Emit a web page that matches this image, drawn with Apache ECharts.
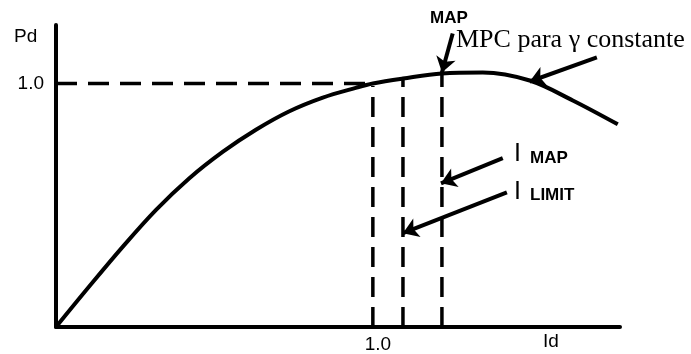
<!DOCTYPE html>
<html>
<head>
<meta charset="utf-8">
<script src="https://cdn.jsdelivr.net/npm/echarts@6/dist/echarts.min.js"></script>
<style>
html, body { margin: 0; padding: 0; background: #fff; }
#chart { width: 691px; height: 354px; }
</style>
</head>
<body>
<div id="chart"></div>
<script>
// curva MPC (Pd vs Id)
var idVals = [0, 0.104, 0.211, 0.315, 0.42, 0.527, 0.631, 0.735, 0.842, 0.946, 1.0, 1.095, 1.218, 1.347, 1.495, 1.631, 1.773];
var pdVals = [0, 0.165, 0.33, 0.48, 0.61, 0.72, 0.81, 0.885, 0.942, 0.982, 1.0, 1.02, 1.041, 1.045, 1.012, 0.93, 0.832];

// lineas de referencia
var refX = [1.0, 1.095, 1.218];      // Id: 1.0, I LIMIT, I MAP
var refTop = [0.99, 1.02, 1.04];     // altura del trazo vertical
var refLevel = 1.0;                  // Pd = 1.0

// flechas [desde, hasta]
var arrowMap = [[1.252, 1.205], [1.218, 1.045]];
var arrowMpc = [[1.707, 1.107], [1.495, 1.008]];
var arrowIMap = [[1.410, 0.693], [1.215, 0.590]];
var arrowILimit = [[1.423, 0.553], [1.095, 0.385]];

var tickLabels = ['1.0'];

var chart = echarts.init(document.getElementById('chart'));

function pairs(xs, ys) {
	var out = [];
	for (var i = 0; i < xs.length; i++) out.push([xs[i], ys[i]]);
	return out;
}

var series = [
	{
		type: 'line',
		data: pairs(idVals, pdVals),
		smooth: 0.35,
		showSymbol: false,
		lineStyle: { color: '#000', width: 4 }
	},
	{
		type: 'line',
		data: [[0, refLevel], [refX[0], refLevel]],
		showSymbol: false,
		lineStyle: { color: '#000', width: 3.5, type: [21, 11] }
	}
];
for (var i = 0; i < refX.length; i++) {
	series.push({
		type: 'line',
		data: [[refX[i], 0], [refX[i], refTop[i]]],
		showSymbol: false,
		lineStyle: { color: '#000', width: 3.5, type: [20, 10] }
	});
}
series.push({
	type: 'line',
	data: [],
	markLine: {
		silent: true,
		symbol: ['none', 'arrow'],
		symbolSize: 15,
		label: { show: false },
		lineStyle: { color: '#000', width: 4, type: 'solid' },
		data: [arrowMap, arrowMpc, arrowIMap, arrowILimit].map(function (a) {
			return [{ coord: a[0] }, { coord: a[1] }];
		})
	}
});

var option = {
	animation: false,
	backgroundColor: '#fff',
	grid: { left: 56, right: 71, top: 25, bottom: 27 },
	xAxis: {
		type: 'value',
		min: 0,
		max: 1.78,
		splitLine: { show: false },
		axisTick: { show: false },
		axisLine: { lineStyle: { color: '#000', width: 4 } },
		axisLabel: {
			customValues: [1.0],
			formatter: function () { return tickLabels[0]; },
			color: '#000',
			fontSize: 19,
			fontFamily: 'Liberation Sans',
			margin: 8,
			padding: [0, 0, 0, 10]
		}
	},
	yAxis: {
		type: 'value',
		min: 0,
		max: 1.24,
		splitLine: { show: false },
		axisTick: { show: false },
		axisLine: { lineStyle: { color: '#000', width: 4 } },
		axisLabel: {
			customValues: [1.0],
			formatter: function () { return tickLabels[0]; },
			color: '#000',
			fontSize: 19,
			fontFamily: 'Liberation Sans',
			margin: 12
		}
	},
	graphic: [
		{ type: 'text', left: 14, top: 27, style: { text: 'Pd', font: '19px "Liberation Sans"', fill: '#000' } },
		{ type: 'text', left: 543, top: 332, style: { text: 'Id', font: '19px "Liberation Sans"', fill: '#000' } },
		{ type: 'text', left: 430, top: 10, style: { text: 'MAP', font: 'bold 17px "Liberation Sans"', fill: '#000' } },
		{ type: 'text', left: 456, top: 27, style: { text: 'MPC para γ constante', font: '26px "Liberation Serif"', fill: '#000' } },
		{ type: 'text', left: 514, top: 142, style: { text: 'I', font: '25px "Liberation Sans"', fill: '#000' } },
		{ type: 'text', left: 530, top: 150, style: { text: 'MAP', font: 'bold 17px "Liberation Sans"', fill: '#000' } },
		{ type: 'text', left: 514, top: 180, style: { text: 'I', font: '25px "Liberation Sans"', fill: '#000' } },
		{ type: 'text', left: 530, top: 187, style: { text: 'LIMIT', font: 'bold 17px "Liberation Sans"', fill: '#000' } }
	],
	series: series
};

chart.setOption(option);
</script>
</body>
</html>
